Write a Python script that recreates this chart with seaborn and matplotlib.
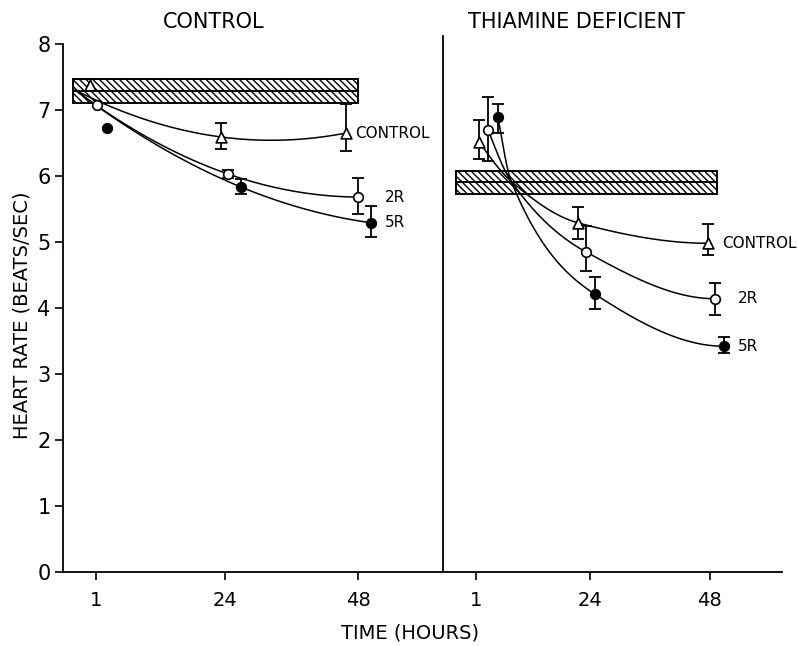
import numpy as np
import pandas as pd
import matplotlib
matplotlib.use("Agg")
import matplotlib.pyplot as plt
import seaborn as sns

# ---------------- data ----------------
hour_ticks = [1, 24, 48]
y_ticks = [0, 1, 2, 3, 4, 5, 6, 7, 8]
panel_titles = ["CONTROL", "THIAMINE DEFICIENT"]
series_names = ["CONTROL", "2R", "5R"]

# Control panel (x in hours, markers slightly offset as drawn)
ctl_tri_x = [-0.1, 23.4, 45.8]
ctl_tri_y = [7.38, 6.59, 6.65]
ctl_tri_lo = [np.nan, 6.41, 6.38]
ctl_tri_hi = [np.nan, 6.80, 7.09]

ctl_2r_x = [1.1, 24.6, 47.9]
ctl_2r_y = [7.08, 6.03, 5.68]
ctl_2r_lo = [np.nan, 5.97, 5.42]
ctl_2r_hi = [np.nan, 6.09, 5.97]

ctl_5r_x = [2.9, 27.0, 50.3]
ctl_5r_y = [6.73, 5.83, 5.29]
ctl_5r_lo = [np.nan, 5.73, 5.08]
ctl_5r_hi = [np.nan, 5.95, 5.55]

# Thiamine deficient panel
td_tri_x = [1.65, 21.5, 47.6]
td_tri_y = [6.52, 5.29, 4.98]
td_tri_lo = [6.26, 5.05, 4.80]
td_tri_hi = [6.85, 5.53, 5.27]

td_2r_x = [3.45, 23.1, 49.0]
td_2r_y = [6.70, 4.85, 4.14]
td_2r_lo = [6.23, 4.56, 3.89]
td_2r_hi = [7.20, 5.24, 4.38]

td_5r_x = [5.46, 24.9, 50.8]
td_5r_y = [6.89, 4.21, 3.42]
td_5r_lo = [6.65, 3.98, 3.32]
td_5r_hi = [7.09, 4.47, 3.56]

# hatched baseline bands (x range, lower, middle, upper)
ctl_band_x = [-3.2, 47.9]
ctl_band_y = [7.11, 7.28, 7.47]
td_band_x = [-3.0, 49.4]
td_band_y = [5.73, 5.91, 6.07]

# fitted-curve anchors
ctl_start = (-2.8, 7.30)
td_cross = (8.1, 5.92)


# ---------------- helpers ----------------
def pchip(x, y, xs):
    x = np.asarray(x, float); y = np.asarray(y, float)
    h = np.diff(x); d = np.diff(y) / h
    n = len(x); m = np.zeros(n)
    for k in range(1, n - 1):
        if d[k - 1] * d[k] <= 0:
            m[k] = 0.0
        else:
            w1 = 2 * h[k] + h[k - 1]; w2 = h[k] + 2 * h[k - 1]
            m[k] = (w1 + w2) / (w1 / d[k - 1] + w2 / d[k])

    def endslope(h0, h1, d0, d1):
        s = ((2 * h0 + h1) * d0 - h0 * d1) / (h0 + h1)
        if np.sign(s) != np.sign(d0):
            s = 0.0
        elif np.sign(d0) != np.sign(d1) and abs(s) > abs(3 * d0):
            s = 3 * d0
        return s
    m[0] = endslope(h[0], h[1], d[0], d[1])
    m[-1] = endslope(h[-1], h[-2], d[-1], d[-2])
    idx = np.clip(np.searchsorted(x, xs) - 1, 0, n - 2)
    t = (xs - x[idx]) / h[idx]
    h00 = 2 * t**3 - 3 * t**2 + 1; h10 = t**3 - 2 * t**2 + t
    h01 = -2 * t**3 + 3 * t**2; h11 = t**3 - t**2
    return h00 * y[idx] + h10 * h[idx] * m[idx] + h01 * y[idx + 1] + h11 * h[idx] * m[idx + 1]


def draw_points(ax, x, y, lo, hi, marker, face):
    x = np.asarray(x); y = np.asarray(y); lo = np.asarray(lo); hi = np.asarray(hi)
    ok = ~np.isnan(lo)
    ax.errorbar(x[ok], y[ok], yerr=[y[ok] - lo[ok], hi[ok] - y[ok]], fmt="none",
                ecolor="black", elinewidth=1.3, capsize=4, capthick=1.3, zorder=4)
    df = pd.DataFrame({"x": x, "y": y})
    sns.scatterplot(data=df, x="x", y="y", ax=ax, marker=marker, s=48 if marker == "o" else 60,
                    facecolor=face, edgecolor="black", linewidth=1.2, zorder=6, legend=False)


def draw_curve(ax, xs, ys):
    df = pd.DataFrame({"x": xs, "y": ys})
    sns.lineplot(data=df, x="x", y="y", ax=ax, color="black", linewidth=1.1,
                 sort=False, estimator=None, zorder=3)


def draw_band(ax, bx, by):
    for lo, hi in [(by[0], by[1]), (by[1], by[2])]:
        ax.barh(y=(lo + hi) / 2, width=bx[1] - bx[0], left=bx[0], height=hi - lo,
                facecolor="white", edgecolor="black", hatch="\\\\\\\\\\",
                linewidth=1.4, zorder=2)


# ---------------- figure ----------------
sns.set_style("ticks")
plt.rcParams["font.family"] = ["DejaVu Sans"]
plt.rcParams["hatch.linewidth"] = 1.0
for key in ("text.color", "axes.labelcolor", "xtick.color", "ytick.color", "axes.edgecolor"):
    plt.rcParams[key] = "black"

W, H = 799, 646
fig = plt.figure(figsize=(W / 100, H / 100), dpi=100)
axL = fig.add_axes([63 / W, 74 / H, 380 / W, 536 / H])
axR = fig.add_axes([443 / W, 74 / H, 339 / W, 536 / H])

# control panel
draw_band(axL, ctl_band_x, ctl_band_y)
for xs_pts, ys_pts in [(ctl_tri_x, ctl_tri_y), (ctl_2r_x, ctl_2r_y), (ctl_5r_x, ctl_5r_y)]:
    ax_x = [ctl_start[0], xs_pts[1], xs_pts[2]]
    ax_y = [ctl_start[1], ys_pts[1], ys_pts[2]]
    coef = np.polyfit(ax_x, ax_y, 2)
    xx = np.linspace(ax_x[0], ax_x[-1], 200)
    draw_curve(axL, xx, np.polyval(coef, xx))
draw_points(axL, ctl_tri_x, ctl_tri_y, ctl_tri_lo, ctl_tri_hi, "^", "white")
draw_points(axL, ctl_2r_x, ctl_2r_y, ctl_2r_lo, ctl_2r_hi, "o", "white")
draw_points(axL, ctl_5r_x, ctl_5r_y, ctl_5r_lo, ctl_5r_hi, "o", "black")

# thiamine deficient panel
draw_band(axR, td_band_x, td_band_y)
for xs_pts, ys_pts in [(td_tri_x, td_tri_y), (td_2r_x, td_2r_y), (td_5r_x, td_5r_y)]:
    ax_x = [xs_pts[0], td_cross[0], xs_pts[1], xs_pts[2]]
    ax_y = [ys_pts[0], td_cross[1], ys_pts[1], ys_pts[2]]
    xx = np.linspace(ax_x[0], ax_x[-1], 300)
    draw_curve(axR, xx, pchip(ax_x, ax_y, xx))
draw_points(axR, td_tri_x, td_tri_y, td_tri_lo, td_tri_hi, "^", "white")
draw_points(axR, td_2r_x, td_2r_y, td_2r_lo, td_2r_hi, "o", "white")
draw_points(axR, td_5r_x, td_5r_y, td_5r_lo, td_5r_hi, "o", "black")

# series labels
lab_fs = 11
axL.text(47.4, ctl_tri_y[2], series_names[0], fontsize=lab_fs, ha="left", va="center")
axL.text(52.8, ctl_2r_y[2], series_names[1], fontsize=lab_fs, ha="left", va="center")
axL.text(52.8, ctl_5r_y[2], series_names[2], fontsize=lab_fs, ha="left", va="center")
axR.text(50.4, td_tri_y[2], series_names[0], fontsize=lab_fs, ha="left", va="center")
axR.text(53.7, td_2r_y[2], series_names[1], fontsize=lab_fs, ha="left", va="center")
axR.text(53.7, td_5r_y[2], series_names[2], fontsize=lab_fs, ha="left", va="center")

# axes styling
for ax in (axL, axR):
    ax.set_xlim(-5.0, 63.2)
    ax.set_ylim(0, 8.12)
    ax.set_xticks(hour_ticks)
    ax.set_xticklabels([str(h) for h in hour_ticks], fontsize=14)
    ax.set_xlabel(""); ax.set_ylabel("")
    ax.spines["top"].set_visible(False)
    ax.spines["right"].set_visible(False)
    for s in ("left", "bottom"):
        ax.spines[s].set_linewidth(1.3)
    ax.tick_params(axis="x", direction="out", length=6, width=1.2, pad=8)
    ax.patch.set_alpha(0)

axR.set_xlim(-5.58, 62.5)
axL.set_yticks(y_ticks)
axL.set_yticklabels([str(v) for v in y_ticks], fontsize=15)
axL.tick_params(axis="y", direction="out", length=6, width=1.2, pad=3)
axL.spines["left"].set_bounds(0, 8)
axR.set_yticks([])

# titles and axis labels
fig.text(214 / W, 1 - 22 / H, panel_titles[0], fontsize=15, ha="center", va="center")
fig.text(577 / W, 1 - 22 / H, panel_titles[1], fontsize=15, ha="center", va="center")
fig.text(22 / W, 1 - 315 / H, "HEART RATE (BEATS/SEC)", fontsize=14, rotation=90,
         ha="center", va="center")
fig.text(410 / W, 1 - 633 / H, "TIME (HOURS)", fontsize=14, ha="center", va="center")

fig.savefig("out.png", dpi=100, facecolor="white")
